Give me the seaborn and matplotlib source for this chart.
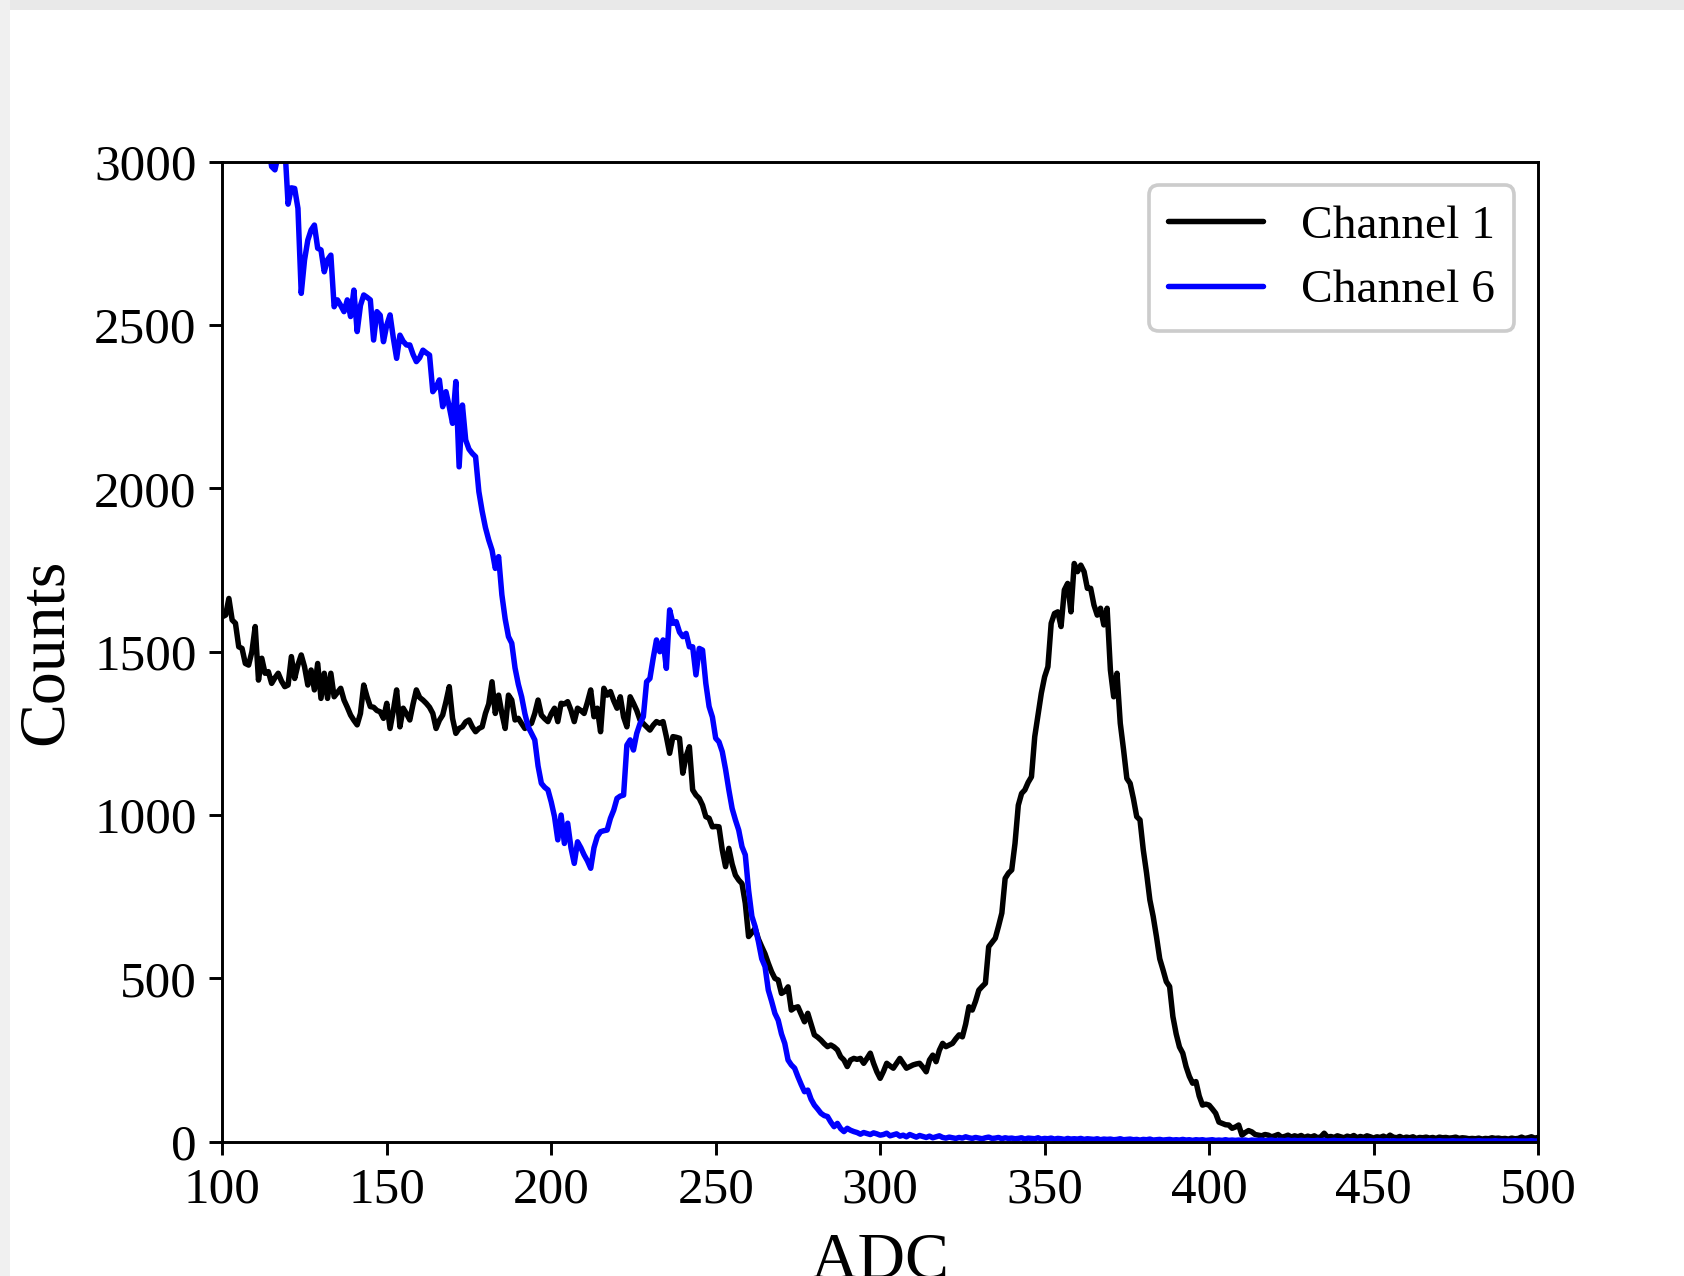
import numpy as np
import pandas as pd
import matplotlib
matplotlib.use("Agg")
import matplotlib.pyplot as plt
from matplotlib.patches import Rectangle
import seaborn as sns

# ---------------- data ----------------
adc = list(range(100, 501))

channel1 = [
    1607, 1612, 1663, 1597, 1587, 1515, 1510, 1464, 1459, 1500,   # 100-109
    1577, 1413, 1480, 1434, 1439, 1403, 1420, 1434, 1410, 1393,   # 110-119
    1398, 1485, 1418, 1460, 1490, 1454, 1398, 1444, 1383, 1464,   # 120-129
    1357, 1434, 1357, 1434, 1362, 1375, 1388, 1352, 1330, 1306,   # 130-139
    1290, 1276, 1311, 1398, 1362, 1332, 1330, 1320, 1316, 1296,   # 140-149
    1342, 1265, 1320, 1383, 1270, 1327, 1310, 1291, 1340, 1383,   # 150-159
    1360, 1352, 1342, 1330, 1311, 1265, 1290, 1306, 1347, 1393,   # 160-169
    1296, 1250, 1265, 1270, 1285, 1291, 1270, 1255, 1265, 1270,   # 170-179
    1311, 1340, 1408, 1311, 1367, 1311, 1265, 1367, 1352, 1291,   # 180-189
    1296, 1280, 1265, 1275, 1281, 1311, 1352, 1306, 1295, 1286,   # 190-199
    1310, 1327, 1286, 1342, 1340, 1347, 1321, 1286, 1327, 1320,   # 200-209
    1311, 1345, 1383, 1301, 1327, 1255, 1388, 1367, 1378, 1350,   # 210-219
    1327, 1362, 1300, 1270, 1362, 1342, 1320, 1291, 1280, 1270,   # 220-229
    1260, 1275, 1286, 1281, 1286, 1240, 1189, 1240, 1238, 1235,   # 230-239
    1128, 1180, 1209, 1077, 1061, 1051, 1030, 995, 990, 964,      # 240-249
    965, 964, 893, 842, 898, 850, 816, 801, 790, 730,             # 250-259
    628, 640, 653, 620, 597, 575, 546, 520, 500, 495,             # 260-269
    454, 460, 474, 403, 410, 413, 390, 367, 393, 360,             # 270-279
    327, 320, 311, 300, 291, 296, 290, 281, 260, 250,             # 280-289
    230, 250, 255, 252, 255, 240, 255, 271, 240, 214,             # 290-299
    194, 215, 240, 232, 225, 240, 255, 240, 225, 230,             # 300-309
    235, 238, 240, 228, 214, 250, 265, 245, 280, 301,             # 310-319
    291, 296, 301, 315, 327, 321, 360, 413, 403, 430,             # 320-329
    464, 475, 485, 597, 610, 623, 660, 700, 806, 822,             # 330-339
    832, 913, 1030, 1066, 1077, 1100, 1117, 1240, 1306, 1373,     # 340-349
    1423, 1454, 1587, 1617, 1622, 1577, 1689, 1709, 1622, 1770,   # 350-359
    1745, 1765, 1745, 1694, 1694, 1643, 1612, 1633, 1582, 1633,   # 360-369
    1444, 1362, 1434, 1281, 1200, 1112, 1097, 1050, 995, 985,     # 370-379
    893, 822, 740, 690, 628, 560, 526, 490, 475, 383,             # 380-389
    330, 290, 271, 230, 200, 179, 184, 140, 112, 115,             # 390-399
    112, 100, 87, 60, 56, 52, 51, 41, 45, 51,                     # 400-409
    20, 28, 34, 30, 22, 20, 18, 22, 20, 15,                       # 410-419
    18, 22, 14, 16, 20, 14, 18, 15, 19, 13,                       # 420-429
    17, 14, 18, 12, 15, 26, 14, 16, 13, 18,                       # 430-439
    15, 12, 17, 14, 19, 12, 16, 13, 18, 15,                       # 440-449
    11, 15, 13, 17, 12, 20, 14, 12, 16, 11,                       # 450-459
    14, 12, 15, 10, 13, 12, 14, 11, 13, 10,                       # 460-469
    14, 12, 13, 11, 12, 14, 10, 12, 11, 9,                        # 470-479
    10, 9, 11, 8, 10, 9, 12, 10, 11, 9,                           # 480-489
    10, 8, 11, 9, 10, 14, 10, 12, 15, 11,                         # 490-499
    13,                                                           # 500
]

channel6 = [
    3450, 3420, 3380, 3400, 3350, 3300, 3280, 3250, 3200, 3180,   # 100-109
    3150, 3120, 3100, 3080, 3050, 2985, 2975, 3020, 3050, 3050,   # 110-119
    2870, 2920, 2918, 2857, 2597, 2699, 2760, 2791, 2806, 2735,   # 120-129
    2730, 2663, 2700, 2714, 2556, 2577, 2560, 2541, 2577, 2526,   # 130-139
    2607, 2480, 2560, 2592, 2585, 2577, 2454, 2541, 2530, 2449,   # 140-149
    2500, 2531, 2460, 2398, 2469, 2450, 2439, 2439, 2410, 2388,   # 150-159
    2400, 2423, 2415, 2408, 2296, 2310, 2332, 2250, 2296, 2250,   # 160-169
    2199, 2327, 2066, 2255, 2148, 2120, 2107, 2097, 1990, 1930,   # 170-179
    1880, 1842, 1811, 1755, 1791, 1674, 1600, 1546, 1526, 1450,   # 180-189
    1400, 1362, 1310, 1270, 1250, 1230, 1150, 1097, 1085, 1077,   # 190-199
    1040, 995, 924, 1000, 913, 975, 900, 852, 918, 900,           # 200-209
    878, 860, 837, 900, 934, 949, 952, 954, 990, 1015,            # 210-219
    1051, 1058, 1061, 1214, 1230, 1199, 1250, 1280, 1301, 1408,   # 220-229
    1418, 1480, 1536, 1500, 1536, 1449, 1628, 1587, 1592, 1560,   # 230-239
    1546, 1556, 1515, 1515, 1429, 1510, 1505, 1403, 1332, 1300,   # 240-249
    1235, 1224, 1194, 1140, 1077, 1020, 985, 954, 903, 878,       # 250-259
    770, 690, 658, 612, 560, 536, 464, 430, 393, 372,             # 260-269
    330, 301, 250, 235, 225, 199, 175, 153, 158, 130,             # 270-279
    112, 100, 87, 80, 77, 60, 46, 56, 40, 31,                     # 280-289
    41, 35, 31, 28, 23, 28, 25, 22, 27, 24,                       # 290-299
    20, 22, 26, 18, 21, 24, 17, 20, 15, 22,                       # 300-309
    18, 14, 19, 16, 13, 17, 12, 15, 18, 13,                       # 310-319
    11, 14, 12, 10, 13, 11, 15, 12, 10, 13,                       # 320-329
    11, 9, 12, 14, 10, 11, 13, 9, 12, 10,                         # 330-339
    11, 9, 10, 12, 8, 11, 10, 9, 12, 8,                           # 340-349
    10, 9, 11, 8, 10, 9, 7, 10, 8, 9,                             # 350-359
    8, 10, 7, 9, 8, 7, 9, 6, 8, 7,                                # 360-369
    8, 6, 7, 9, 6, 7, 8, 6, 7, 5,                                 # 370-379
    7, 6, 8, 5, 6, 7, 5, 6, 7, 5,                                 # 380-389
    6, 5, 7, 5, 6, 4, 6, 5, 6, 4,                                 # 390-399
    5, 6, 4, 5, 4, 6, 4, 5, 4, 5,                                 # 400-409
    4, 5, 3, 5, 4, 4, 5, 3, 4, 5,                                 # 410-419
    3, 4, 4, 3, 5, 3, 4, 3, 4, 3,                                 # 420-429
    4, 3, 3, 4, 3, 4, 2, 3, 4, 3,                                 # 430-439
    3, 2, 4, 3, 3, 2, 3, 3, 2, 3,                                 # 440-449
    2, 3, 3, 2, 3, 2, 3, 2, 2, 3,                                 # 450-459
    2, 3, 2, 2, 3, 2, 2, 3, 2, 2,                                 # 460-469
    3, 2, 2, 2, 3, 2, 2, 2, 3, 2,                                 # 470-479
    2, 2, 3, 2, 2, 2, 2, 3, 2, 2,                                 # 480-489
    2, 2, 2, 3, 2, 2, 2, 2, 3, 2,                                 # 490-499
    2,                                                            # 500
]

series_names = ["Channel 1", "Channel 6"]
series_colors = ["#000000", "#0000ff"]
x_ticks = [100, 150, 200, 250, 300, 350, 400, 450, 500]
y_ticks = [0, 500, 1000, 1500, 2000, 2500, 3000]

df = pd.concat([
    pd.DataFrame({"ADC": adc, "Counts": channel1, "series": series_names[0]}),
    pd.DataFrame({"ADC": adc, "Counts": channel6, "series": series_names[1]}),
], ignore_index=True)

# ---------------- style ----------------
sns.set_style("ticks")
plt.rcParams["font.family"] = ["Liberation Serif", "DejaVu Serif"]
plt.rcParams["text.color"] = "black"
plt.rcParams["axes.labelcolor"] = "black"

DPI = 263.125
fig = plt.figure(figsize=(1684 / DPI, 1276 / DPI), dpi=DPI)
fig.patch.set_facecolor("white")
# screenshot-like light grey frame at top and left
fig.patches.append(Rectangle((0, 1 - 10 / 1276), 1, 10 / 1276, transform=fig.transFigure,
                             facecolor="#e9e9e9", edgecolor="none", zorder=0))
fig.patches.append(Rectangle((0, 0), 10 / 1684, 1, transform=fig.transFigure,
                             facecolor="#f0f0f0", edgecolor="none", zorder=0))

ax = fig.add_axes([222.3 / 1684, 1 - 1141.7 / 1276,
                   (1538 - 222.3) / 1684, (1141.7 - 161.7) / 1276])

sns.lineplot(data=df, x="ADC", y="Counts", hue="series", palette=series_colors,
             estimator=None, sort=False, linewidth=1.5, ax=ax)

ax.set_xlim(100, 500)
ax.set_ylim(0, 3000)
ax.set_xticks(x_ticks)
ax.set_yticks(y_ticks)
ax.tick_params(axis="both", which="major", direction="out", length=3.5, width=0.8,
               labelsize=14, color="black", labelcolor="black", top=False, right=False)
for s in ax.spines.values():
    s.set_visible(True)
    s.set_color("black")
    s.set_linewidth(0.8)

ax.set_xlabel("ADC", fontsize=18, labelpad=5, color="black")
ax.set_ylabel("Counts", fontsize=18, labelpad=5, color="black")

leg = ax.legend(loc="upper right", fontsize=13, frameon=True, fancybox=True,
                edgecolor="#cccccc", framealpha=1.0, handlelength=2.0,
                borderaxespad=0.5, labelspacing=0.45, title=None)
for line in leg.get_lines():
    line.set_linewidth(1.5)
for t in leg.get_texts():
    t.set_color("black")

fig.savefig("out.png", dpi=DPI)
